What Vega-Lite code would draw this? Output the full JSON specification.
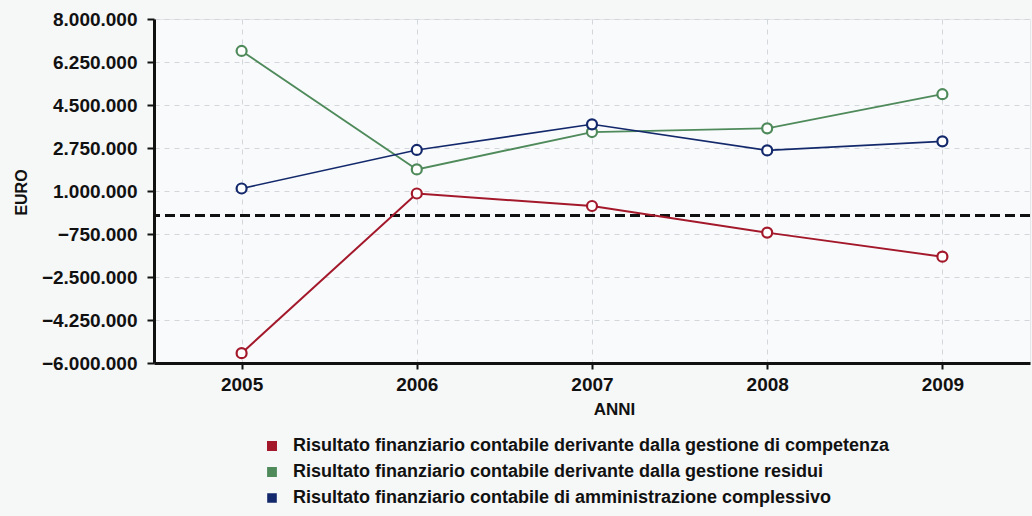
{
  "$schema": "https://vega.github.io/schema/vega-lite/v6.json",
  "autosize": "none",
  "width": 876,
  "height": 344,
  "padding": {"left": 154, "top": 19, "right": 2, "bottom": 153},
  "background": "#f6f7f7",
  "config": {
    "locale": {
      "number": {"decimal": ",", "thousands": ".", "grouping": [3], "currency": ["", " €"]}
    },
    "view": {"stroke": "#e4e6ea", "fill": "#f9fafc"},
    "font": "Liberation Sans"
  },
  "data": {
    "values": [
      {"anno": "2005", "serie": "Risultato finanziario contabile derivante dalla gestione di competenza", "euro": -5600000},
      {"anno": "2006", "serie": "Risultato finanziario contabile derivante dalla gestione di competenza", "euro": 898000},
      {"anno": "2007", "serie": "Risultato finanziario contabile derivante dalla gestione di competenza", "euro": 390000},
      {"anno": "2008", "serie": "Risultato finanziario contabile derivante dalla gestione di competenza", "euro": -694000},
      {"anno": "2009", "serie": "Risultato finanziario contabile derivante dalla gestione di competenza", "euro": -1673000},
      {"anno": "2005", "serie": "Risultato finanziario contabile derivante dalla gestione residui", "euro": 6700000},
      {"anno": "2006", "serie": "Risultato finanziario contabile derivante dalla gestione residui", "euro": 1878000},
      {"anno": "2007", "serie": "Risultato finanziario contabile derivante dalla gestione residui", "euro": 3400000},
      {"anno": "2008", "serie": "Risultato finanziario contabile derivante dalla gestione residui", "euro": 3551000},
      {"anno": "2009", "serie": "Risultato finanziario contabile derivante dalla gestione residui", "euro": 4939000},
      {"anno": "2005", "serie": "Risultato finanziario contabile di amministrazione complessivo", "euro": 1102000},
      {"anno": "2006", "serie": "Risultato finanziario contabile di amministrazione complessivo", "euro": 2670000},
      {"anno": "2007", "serie": "Risultato finanziario contabile di amministrazione complessivo", "euro": 3714000},
      {"anno": "2008", "serie": "Risultato finanziario contabile di amministrazione complessivo", "euro": 2653000},
      {"anno": "2009", "serie": "Risultato finanziario contabile di amministrazione complessivo", "euro": 3020000}
    ]
  },
  "encoding": {
    "x": {
      "field": "anno",
      "type": "ordinal",
      "scale": {"type": "point", "padding": 0.5},
      "axis": {
        "title": "ANNI",
        "labelAngle": 0,
        "labelFont": "Liberation Sans",
        "labelFontSize": 19,
        "labelFontWeight": "bold",
        "labelColor": "#111",
        "labelPadding": 6,
        "titleFont": "Liberation Sans",
        "titleFontSize": 17,
        "titleFontWeight": "bold",
        "titleColor": "#111",
        "titleX": 460,
        "titleY": 46,
        "titleAlign": "center",
        "titleBaseline": "middle",
        "domainColor": "#111",
        "domainWidth": 3,
        "tickColor": "#111",
        "tickWidth": 2,
        "tickSize": 6,
        "grid": true,
        "gridColor": "#d3d6db",
        "gridDash": [5, 5],
        "gridWidth": 1
      }
    },
    "y": {
      "field": "euro",
      "type": "quantitative",
      "scale": {"domain": [-6000000, 8000000], "nice": false, "zero": false},
      "axis": {
        "title": "EURO",
        "values": [-6000000, -4250000, -2500000, -750000, 1000000, 2750000, 4500000, 6250000, 8000000],
        "format": ",d",
        "labelFont": "Liberation Sans",
        "labelFontSize": 19,
        "labelFontWeight": "bold",
        "labelColor": "#111",
        "labelPadding": 10,
        "titleFont": "Liberation Sans",
        "titleFontSize": 16,
        "titleFontWeight": "bold",
        "titleColor": "#111",
        "titleX": -133,
        "titleY": 173,
        "titleAngle": -90,
        "titleAlign": "center",
        "titleBaseline": "middle",
        "domainColor": "#111",
        "domainWidth": 3,
        "tickColor": "#111",
        "tickWidth": 2,
        "tickSize": 7,
        "grid": true,
        "gridColor": "#d3d6db",
        "gridDash": [5, 5],
        "gridWidth": 1
      }
    }
  },
  "layer": [
    {
      "mark": {"type": "rule", "color": "#111", "strokeWidth": 2.5, "strokeDash": [10, 5]},
      "encoding": {"y": {"datum": 0}, "x": null}
    },
    {
      "mark": {"type": "line"},
      "encoding": {
        "color": {
          "field": "serie",
          "type": "nominal",
          "scale": {
            "domain": [
              "Risultato finanziario contabile derivante dalla gestione di competenza",
              "Risultato finanziario contabile derivante dalla gestione residui",
              "Risultato finanziario contabile di amministrazione complessivo"
            ],
            "range": ["#a3192b", "#4f8a5b", "#13296b"]
          },
          "legend": {
            "orient": "none",
            "legendX": 109,
            "legendY": 418,
            "direction": "vertical",
            "title": null,
            "padding": 0,
            "symbolType": "square",
            "symbolSize": 64,
            "symbolStrokeWidth": 0,
            "labelFont": "Liberation Sans",
            "labelFontSize": 18,
            "labelFontWeight": "bold",
            "labelColor": "#111",
            "labelOffset": 12,
            "labelLimit": 800,
            "rowPadding": 8,
            "encode": {
              "symbols": {
                "update": {
                  "fill": {"scale": "color", "field": "value"},
                  "fillOpacity": {"value": 1}
                }
              }
            }
          }
        },
        "strokeWidth": {
          "field": "serie",
          "type": "nominal",
          "scale": {
            "domain": [
              "Risultato finanziario contabile derivante dalla gestione di competenza",
              "Risultato finanziario contabile derivante dalla gestione residui",
              "Risultato finanziario contabile di amministrazione complessivo"
            ],
            "range": [2, 1.6, 2.8]
          },
          "legend": null
        }
      }
    },
    {
      "mark": {"type": "point", "filled": false, "fill": "white", "fillOpacity": 1, "opacity": 1, "size": 100, "strokeWidth": 2.2},
      "encoding": {
        "color": {"field": "serie", "type": "nominal"}
      }
    }
  ]
}
